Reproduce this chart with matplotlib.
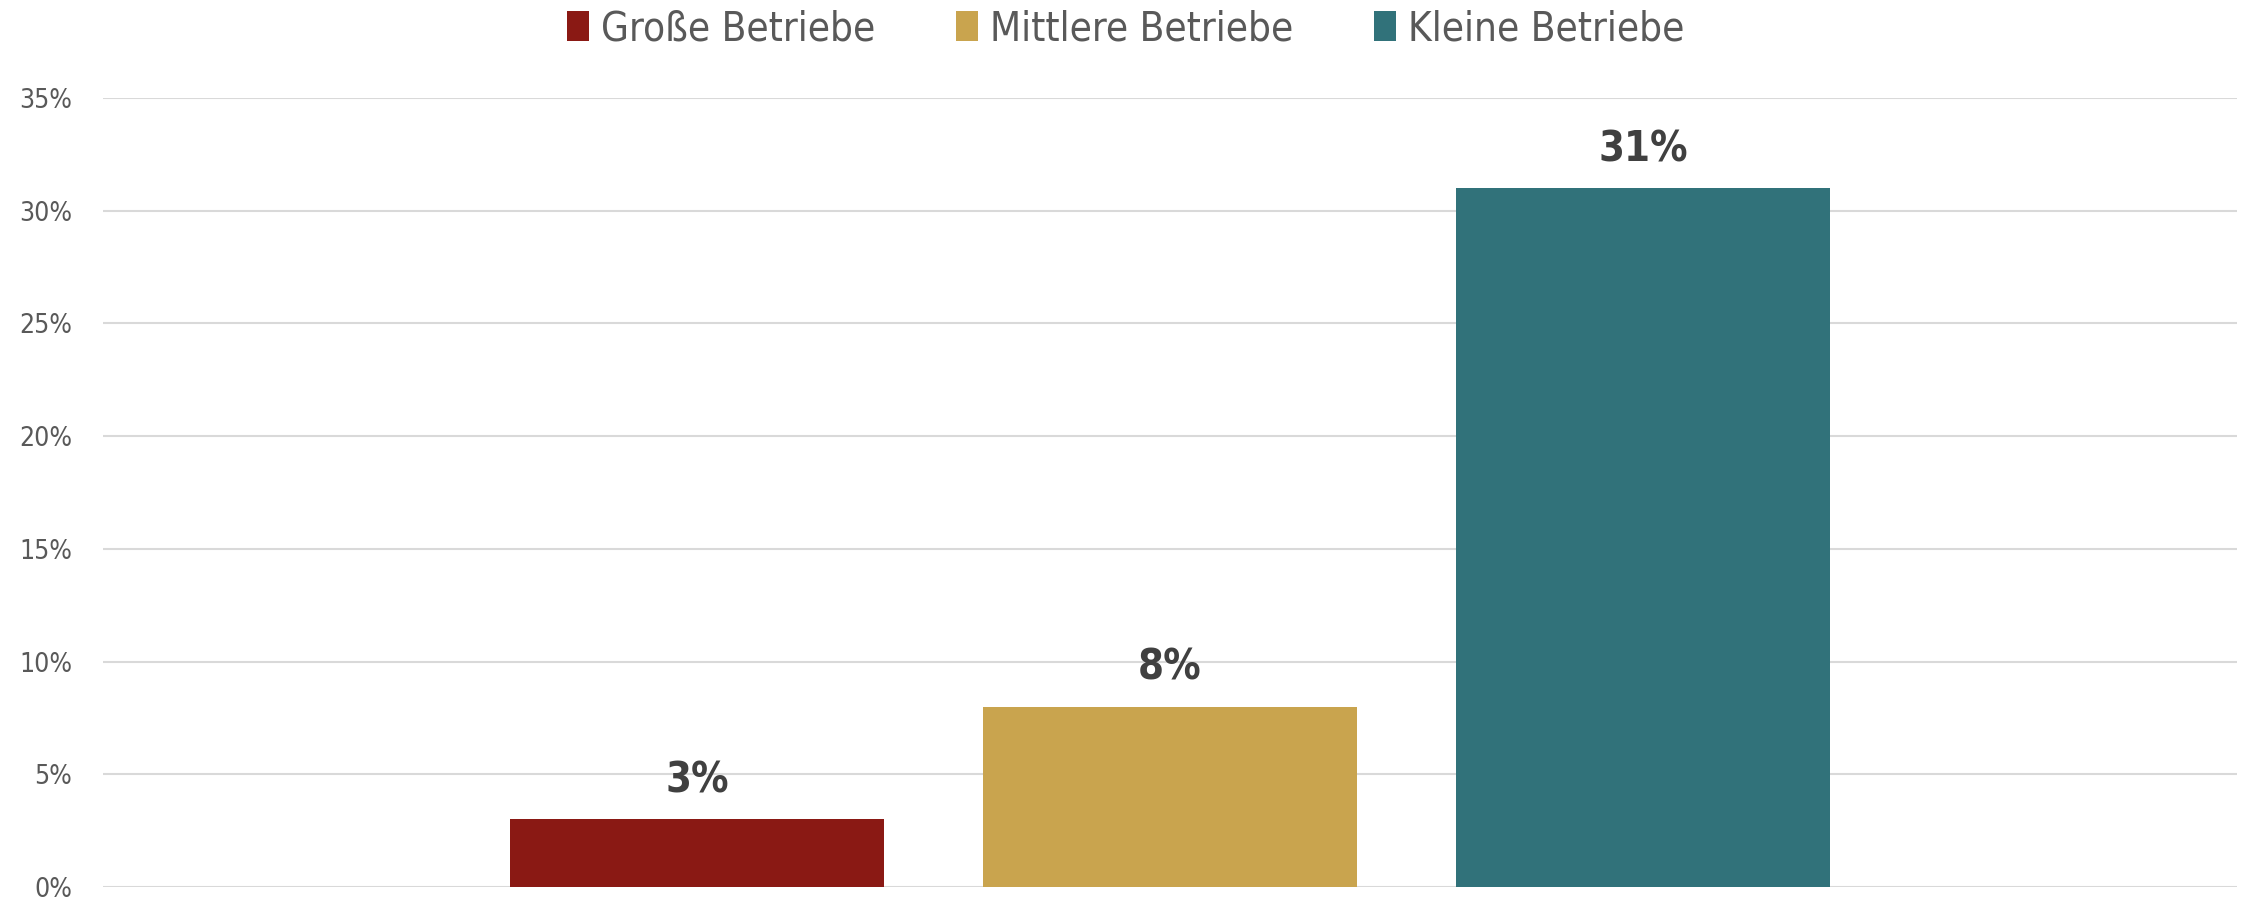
import numpy as np
import matplotlib
matplotlib.use("Agg")
import matplotlib.pyplot as plt
from matplotlib.ticker import PercentFormatter, MultipleLocator

# ─────────────────────────────────────────────
# Data
# ─────────────────────────────────────────────
series = ["Große Betriebe", "Mittlere Betriebe", "Kleine Betriebe"]
values = [0.03, 0.08, 0.31]
colors = ["#8A1914", "#C9A44E", "#31727A"]

plt.rcParams["font.family"] = ["DejaVu Sans"]
plt.rcParams["font.stretch"] = "condensed"

fig = plt.figure(figsize=(22.52, 9.02), dpi=100)
ax = fig.add_axes([0.0457, 0.0166, 0.9476, 0.8748])

# one category, three series side by side
offsets = np.arange(len(series)) - 1
bar_w = 0.79
for off, v, c, s in zip(offsets, values, colors, series):
    ax.bar(off, v, width=bar_w, color=c, label=s, zorder=3)
    ax.annotate(f"{v:.0%}", (off, v), xytext=(0, 13), textcoords="offset points",
                ha="center", va="bottom", fontsize=30, fontweight="bold",
                color="#404040")

ax.set_xlim(-2.256, 2.256)
ax.set_ylim(0, 0.35)
ax.yaxis.set_major_locator(MultipleLocator(0.05))
ax.yaxis.set_major_formatter(PercentFormatter(1.0, decimals=0))
ax.grid(axis="y", color="#D9D9D9", linewidth=1.5, zorder=0)
ax.set_xticks([])
for sp in ax.spines.values():
    sp.set_visible(False)
ax.tick_params(axis="y", length=0, pad=22, labelsize=19, labelcolor="#595959")

fig.legend(loc="upper center", bbox_to_anchor=(0.5, 1.03), ncol=3, frameon=False,
           fontsize=29, labelcolor="#595959", handlelength=0.55, handleheight=0.75,
           handletextpad=0.3, columnspacing=2.0)

fig.savefig("out.png", dpi=100)
